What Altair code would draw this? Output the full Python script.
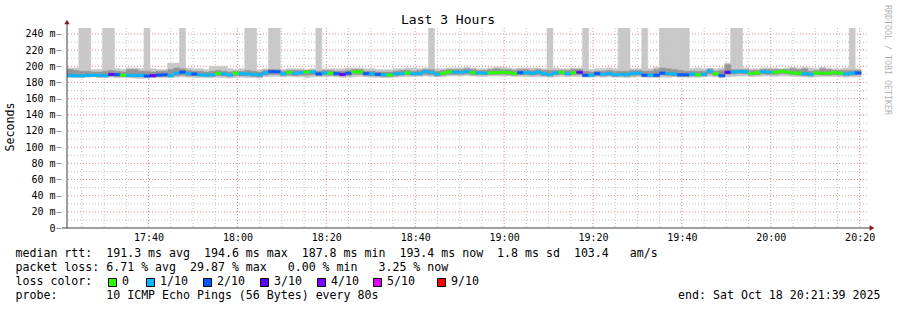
import altair as alt
import pandas as pd

# ---------------- data ----------------
# median rtt per 80 s step (ms), starting 17:21:39
med = [188.6, 188.4, 188.2, 188.8, 189.0, 188.7, 188.5, 190.0, 189.6, 189.0,
       188.8, 188.6, 188.9, 188.0, 188.4, 189.2, 189.5, 188.5, 191.5, 192.8,
       191.0, 190.6, 189.5, 189.0, 189.5, 191.2, 190.5, 189.3, 191.5, 190.8,
       190.5, 190.0, 189.5, 192.0, 193.5, 193.2, 190.8, 192.5, 191.3, 192.0,
       193.0, 193.0, 190.6, 191.8, 191.5, 191.0, 190.0, 191.5, 193.2, 193.0,
       191.0, 190.6, 190.0, 189.5, 189.3, 190.8, 191.2, 191.8, 190.8, 191.0,
       193.5, 192.2, 190.2, 191.4, 193.2, 192.8, 192.4, 193.6, 192.0, 191.8,
       191.5, 192.0, 192.2, 192.5, 192.3, 191.0, 192.0, 192.0, 191.6, 192.8,
       190.8, 189.8, 191.8, 192.5, 191.0, 192.0, 192.5, 189.0, 189.0, 191.0,
       190.2, 191.0, 189.5, 190.0, 189.8, 191.2, 191.6, 189.0, 189.2, 189.0,
       191.6, 191.0, 190.5, 189.6, 189.5, 190.4, 189.5, 190.0, 193.8, 190.8,
       188.5, 192.6, 193.0, 193.6, 193.2, 191.2, 192.0, 193.5, 192.8, 192.5,
       193.8, 193.0, 191.8, 191.6, 190.8, 190.2, 191.8, 191.5, 191.4, 192.4,
       191.6, 190.5, 191.6, 191.8]
# lost pings out of 10 per step
loss = [1, 1, 1, 1, 1, 1, 1, 3, 2, 0,
        1, 1, 1, 2, 3, 2, 2, 1, 1, 2,
        1, 2, 1, 1, 1, 0, 1, 1, 0, 1,
        1, 1, 1, 1, 2, 2, 1, 0, 1, 1,
        0, 1, 2, 1, 0, 2, 3, 2, 0, 0,
        2, 1, 2, 1, 0, 1, 1, 0, 1, 1,
        1, 1, 1, 0, 0, 1, 1, 1, 0, 1,
        1, 0, 0, 0, 0, 0, 2, 1, 1, 1,
        1, 1, 1, 0, 1, 0, 3, 2, 1, 2,
        1, 1, 1, 1, 1, 1, 1, 2, 1, 2,
        2, 1, 1, 2, 2, 1, 0, 1, 1, 0,
        2, 3, 1, 1, 1, 0, 0, 1, 1, 0,
        0, 0, 0, 0, 1, 1, 0, 0, 0, 0,
        0, 1, 1, 2]
# smoke: outer (all pings) range
hi = [198, 198, 260, 260, 196, 196, 260, 260, 197, 196,
      198, 198, 197, 260, 197, 196, 196, 204, 204, 260,
      198, 197, 197, 196, 200, 200, 200, 197, 196, 197,
      260, 260, 196, 197, 260, 260, 196, 197, 197, 197,
      196, 197, 260, 197, 197, 197, 197, 198, 198, 198,
      197, 197, 196, 196, 196, 197, 197, 198, 198, 197,
      198, 260, 197, 197, 198, 198, 198, 199, 198, 197,
      197, 198, 199, 199, 198, 197, 198, 198, 198, 198,
      197, 260, 198, 197, 197, 198, 198, 260, 196, 197,
      197, 198, 197, 260, 260, 197, 197, 260, 197, 199,
      260, 260, 260, 260, 260, 197, 198, 197, 197, 197,
      198, 204, 260, 260, 198, 197, 197, 198, 198, 198,
      197, 198, 199, 198, 199, 198, 197, 199, 198, 197,
      197, 198, 260, 197]
lo = [186, 186, 186, 186.5, 187, 186, 186, 186.5, 186, 186,
      186, 185.5, 185, 185.5, 186, 186, 186, 186, 186.5, 187,
      186.5, 186, 186.5, 186, 186, 186.5, 186, 185.5, 186, 186.5,
      186, 186, 185.5, 187, 187.5, 187.5, 187, 187.5, 187, 187,
      186, 187, 187, 187, 187.5, 187, 186.5, 186.5, 187, 187.5,
      187, 186.5, 186.5, 186, 186, 186.5, 187, 187.5, 187.5, 187.5,
      188, 187.5, 187, 187, 188, 188, 188, 188.5, 188, 187.5,
      187.5, 188, 188, 188, 188, 187.5, 187.5, 187.5, 187, 187,
      187, 186.5, 187, 187.5, 187, 187.5, 187.5, 186.5, 186.5, 187,
      186.5, 187, 186.5, 186.5, 186, 186.5, 187, 186.5, 186, 186,
      186.5, 186.5, 187, 186.5, 186.5, 186.5, 186.5, 187, 187.5, 187,
      186, 187, 187.5, 188, 188, 187.5, 187.5, 188, 188, 187.5,
      188, 188, 187.5, 187, 187, 186.5, 187, 187.5, 187.5, 187.5,
      187, 186.5, 187, 187]
# smoke: inner (dense) range
mid_hi = [196, 195, 194, 194, 193, 193, 194, 195, 194, 193,
          196, 196, 194, 194, 193, 194, 194, 196, 198, 197,
          195, 194, 194, 193, 194, 195, 194, 193, 194, 194,
          195, 194, 193, 195, 196, 196, 194, 195, 195, 195,
          195, 195, 194, 195, 195, 194, 194, 195, 196, 196,
          194, 194, 193, 193, 193, 194, 195, 195, 194, 195,
          196, 196, 194, 195, 196, 196, 196, 197, 196, 195,
          195, 196, 197, 196, 196, 195, 196, 196, 195, 196,
          195, 195, 195, 195, 195, 196, 196, 194, 193, 194,
          194, 195, 194, 194, 194, 195, 195, 194, 194, 196,
          198, 197, 196, 195, 194, 194, 194, 194, 197, 194,
          195, 202, 196, 196, 196, 195, 195, 196, 196, 196,
          196, 196, 197, 196, 197, 194, 195, 197, 196, 195,
          195, 195, 195, 195]
mid_lo = [187, 187, 187, 187.5, 187.5, 187, 187, 188, 187.5, 187.5,
          187, 187, 187, 186.5, 187, 187.5, 187.5, 187, 188.5, 189,
          188, 188, 187.5, 187.5, 187.5, 188.5, 188, 187.5, 188.5, 188,
          188, 187.5, 187, 189, 190, 190, 188.5, 189, 188.5, 189,
          189, 189.5, 188.5, 189, 189, 188.5, 188, 188.5, 190, 190,
          188.5, 188, 188, 187.5, 187.5, 188, 189, 189.5, 189, 189,
          190, 189.5, 188, 189, 190, 190, 190, 190.5, 189.5, 189.5,
          189.5, 190, 190, 190, 189.5, 189, 189.5, 189.5, 189, 189.5,
          188.5, 188, 189.5, 190, 189, 189.5, 190, 187.5, 187.5, 188.5,
          188, 188.5, 187.5, 188, 187.5, 188.5, 189, 187.5, 187.5, 187.5,
          189, 188.5, 188, 187.5, 187.5, 188, 188, 188, 190.5, 188.5,
          187, 190, 190.5, 191, 190.5, 189, 189.5, 190.5, 190, 190,
          191, 190.5, 189.5, 189, 188.5, 188, 189.5, 189, 189, 189.5,
          189, 188.5, 189, 189.5]

loss_codes = [0, 1, 2, 3, 4, 5, 9]
loss_labels = ["0", "1/10", "2/10", "3/10", "4/10", "5/10", "9/10"]
loss_colors = ["#26ff00", "#00b8ff", "#0059ff", "#5e00ff", "#7e00ff", "#dd00ff", "#ff0000"]

x_tick_labels = ["17:40", "18:00", "18:20", "18:40", "19:00", "19:20", "19:40", "20:00", "20:20"]
y_tick_values = [0, 20, 40, 60, 80, 100, 120, 140, 160, 180, 200, 220, 240]

title_text = "Last 3 Hours"
y_title = "Seconds"
side_text = "RRDTOOL / TOBI OETIKER"
line1 = "median rtt:  191.3 ms avg  194.6 ms max  187.8 ms min  193.4 ms now  1.8 ms sd  103.4   am/s"
line2 = "packet loss: 6.71 % avg  29.87 % max   0.00 % min   3.25 % now"
line3 = "loss color:"
line4 = "probe:       10 ICMP Echo Pings (56 Bytes) every 80s"
end_text = "end: Sat Oct 18 20:21:39 2025"

# ---------------- build tables ----------------
START = 17 * 60 + 21 + 39 / 60.0   # minutes of day
STEP = 80 / 60.0
END = START + 180

color_of = dict(zip(loss_codes, loss_colors))
df = pd.DataFrame({"med": med, "loss": loss, "hi": hi, "lo": lo,
                   "mid_hi": mid_hi, "mid_lo": mid_lo})
df["t"] = START + df.index * STEP
df["t2"] = df["t"] + STEP
df["col"] = [color_of[c] for c in loss]

x_tick_values = [int(s[:2]) * 60 + int(s[3:]) for s in x_tick_labels]
major_x = pd.DataFrame({"g": x_tick_values})
minor_x = pd.DataFrame({"g": [m for m in range(1045, 1222, 5) if m % 20 != 0]})
major_y = pd.DataFrame({"v": [v for v in y_tick_values if v > 0]})
minor_y = pd.DataFrame({"v": [v + 10 for v in y_tick_values]})

FONT = "DejaVu Sans Mono"
xscale = alt.Scale(domain=[START, END], nice=False, zero=False)
yscale = alt.Scale(domain=[0, 247.4], nice=False, zero=True)
xaxis = alt.Axis(values=x_tick_values, title=None, domain=False, grid=False, ticks=False,
                 labelExpr="floor(datum.value/60) + ':' + (datum.value % 60 < 10 ? '0' : '') + (datum.value % 60)",
                 labelFont=FONT, labelFontSize=10, labelColor="#000000", labelPadding=4,
                 labelFlush=False, labelOverlap=False)
yaxis = alt.Axis(values=y_tick_values, title=None, domain=False, grid=False,
                 labelExpr="datum.value == 0 ? '0' : datum.value + ' m'",
                 labelFont=FONT, labelFontSize=10, labelColor="#000000", labelPadding=1,
                 tickSize=5, tickColor="#909090", offset=6, labelOverlap=False)

MINOR = "#c4c4c4"
MAJOR = "#f08a8a"

vminor = alt.Chart(minor_x).mark_rule(color=MINOR, strokeDash=[1, 2], strokeWidth=1).encode(
    x=alt.X("g:Q", scale=xscale, axis=xaxis))
vmajor = alt.Chart(major_x).mark_rule(color=MAJOR, strokeDash=[1, 2], strokeWidth=1).encode(
    x=alt.X("g:Q", scale=xscale, axis=xaxis))
hminor = alt.Chart(minor_y).mark_rule(color=MINOR, strokeDash=[1, 2], strokeWidth=1, clip=True).encode(
    y=alt.Y("v:Q", scale=yscale, axis=yaxis))
hmajor = alt.Chart(major_y).mark_rule(color=MAJOR, strokeDash=[1, 2], strokeWidth=1).encode(
    y=alt.Y("v:Q", scale=yscale, axis=yaxis))

OUTER = "#c8c8c8"
INNER = "#969696"
base = alt.Chart(df)
outer = base.mark_rect(fill=OUTER, stroke=OUTER, strokeWidth=0.6, clip=True).encode(
    x=alt.X("t:Q", scale=xscale, axis=xaxis), x2="t2:Q",
    y=alt.Y("lo:Q", scale=yscale, axis=yaxis), y2="hi:Q")
inner = base.mark_rect(fill=INNER, stroke=INNER, strokeWidth=0.5, clip=True).encode(
    x=alt.X("t:Q", scale=xscale, axis=xaxis), x2="t2:Q",
    y=alt.Y("mid_lo:Q", scale=yscale, axis=yaxis), y2="mid_hi:Q")
median = base.transform_calculate(
    m_lo="datum.med - 1.5", m_hi="datum.med + 1.5"
).mark_rect(clip=True, strokeWidth=0.5).encode(
    x=alt.X("t:Q", scale=xscale, axis=xaxis), x2="t2:Q",
    y=alt.Y("m_lo:Q", scale=yscale, axis=yaxis), y2="m_hi:Q",
    fill=alt.Fill("col:N", scale=None),
    stroke=alt.Stroke("col:N", scale=None))

one = alt.Data(values=[{}])


def txt(s, x, y, size=11.6, align="left", angle=0, color="#000000", baseline="middle"):
    return alt.Chart(one).mark_text(
        text=s.replace(" ", "\u00a0"), font=FONT, fontSize=size, align=align, baseline=baseline,
        angle=angle, color=color
    ).encode(x=alt.value(x), y=alt.value(y))


AX = "#404040"
ARROW = "#8b1a1a"
yline = alt.Chart(one).mark_rule(color=AX, strokeWidth=1).encode(
    x=alt.value(0), y=alt.value(-6), y2=alt.value(200))
xline = alt.Chart(one).mark_rule(color=AX, strokeWidth=1).encode(
    x=alt.value(-5), x2=alt.value(804), y=alt.value(200))
yarrow = alt.Chart(one).mark_point(shape="triangle-up", filled=True, color=ARROW, size=30, opacity=1).encode(
    x=alt.value(0), y=alt.value(-6))
xarrow = alt.Chart(one).mark_point(shape="triangle-right", filled=True, color=ARROW, size=30, opacity=1).encode(
    x=alt.value(805), y=alt.value(200))

# legend rows (plot-relative pixels; plot top is at page y=28)
ROW1, ROW2, ROW3, ROW4 = 226, 240, 254, 268
layers = [vminor, hminor, vmajor, hmajor, outer, inner, median, yline, xline, yarrow, xarrow,
          txt(title_text, 381, -8, size=13, align="center"),
          txt(y_title, -56, 99, size=11.6, align="center", angle=270),
          txt(side_text, 820, 32, size=8.3, align="center", angle=90, color="#b4b4b4"),
          txt(line1, -51.5, ROW1),
          txt(line2, -51.5, ROW2),
          txt(line3, -51.5, ROW3),
          txt(line4, -51.5, ROW4),
          txt(end_text, 813.5, ROW4, align="right")]

sq_x = [41, 79, 136, 193, 250, 306, 370]
for sx, lab, colr in zip(sq_x, loss_labels, loss_colors):
    layers.append(alt.Chart(one).mark_rect(fill=colr, stroke="#000000", strokeWidth=1).encode(
        x=alt.value(sx + 0.5), x2=alt.value(sx + 8.5), y=alt.value(ROW3 - 3.5), y2=alt.value(ROW3 + 4.5)))
    layers.append(txt(lab, sx + 14, ROW3))

chart = alt.layer(*layers).properties(
    width=800, height=200, autosize="none",
    padding={"left": 67, "top": 28, "right": 30, "bottom": 82},
    background="#ffffff"
).configure_view(stroke=None)

chart.save("out.html", embed_options={"renderer": "svg", "actions": False})
